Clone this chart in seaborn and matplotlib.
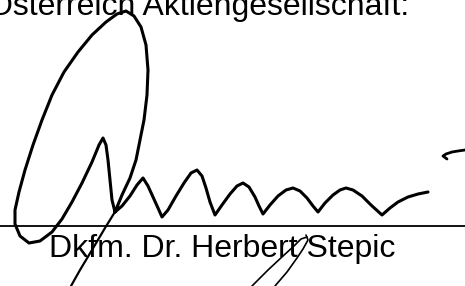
import matplotlib
matplotlib.use("Agg")
import matplotlib.pyplot as plt
import seaborn as sns
import pandas as pd

# ---- data (pixel space, y downward) ----
heading_text = "Österreich Aktiengesellschaft:"
name_text = "Dkfm. Dr. Herbert Stepic"

main_x = [115, 122, 130, 136, 140, 144, 147, 148, 146, 141, 134, 126, 117, 106, 92, 78, 64, 52, 42, 33, 25, 19, 15, 15, 20, 29, 40, 52, 62, 72, 82, 92, 99, 103, 106, 108, 110, 112, 115,
          122, 130, 137, 143, 148, 153, 158, 162, 168, 176, 184, 191, 197, 202, 206, 210, 215, 222, 230, 237, 243, 249, 255, 259, 263,
          270, 278, 286, 293, 300, 307, 313, 318, 325, 333, 340, 346, 353, 362, 371, 382, 390, 398, 408, 418, 428]
main_y = [212, 195, 178, 160, 140, 120, 95, 70, 45, 27, 16, 11, 14, 22, 35, 52, 72, 95, 120, 145, 170, 192, 210, 224, 236, 243, 241, 232, 219, 202, 183, 162, 145, 138, 145, 160, 180, 200, 212,
          206, 196, 185, 178, 186, 197, 208, 217, 210, 196, 183, 173, 170, 176, 188, 202, 215, 205, 194, 186, 183, 187, 197, 206, 214,
          205, 196, 190, 188, 191, 198, 206, 212, 203, 195, 190, 188, 190, 196, 205, 215, 208, 202, 197, 194, 192]

slash1_x = [118, 105, 92, 80, 71]
slash1_y = [207, 228, 250, 270, 286]
slash2_x = [252, 268, 283, 294, 301, 307]
slash2_y = [286, 270, 256, 246, 239, 237]
slash3_x = [275, 287, 297, 303, 308, 306]
slash3_y = [286, 272, 258, 249, 240, 235]
tick_x = [447, 443, 446, 452, 458, 465]
tick_y = [159, 156, 154, 152, 151, 150]
rule_x = [0, 465]
rule_y = [226, 226]

sns.set_theme(style="white")
plt.rcParams['font.family'] = ['Liberation Sans', 'DejaVu Sans']

fig = plt.figure(figsize=(4.65, 2.86), dpi=100)
ax = fig.add_axes([0, 0, 1, 1])

def stroke(xs, ys, lw):
    df = pd.DataFrame({"x": xs, "y": ys})
    sns.lineplot(data=df, x="x", y="y", sort=False, estimator=None,
                 color="black", linewidth=lw, ax=ax)

stroke(rule_x, rule_y, 1.3)
stroke(main_x, main_y, 2.2)
stroke(slash1_x, slash1_y, 1.6)
stroke(slash2_x, slash2_y, 1.2)
stroke(slash3_x, slash3_y, 1.2)
stroke(tick_x, tick_y, 2.0)

ax.text(409, 15, heading_text, ha="right", va="baseline", fontsize=23, color="black")
ax.text(49, 257, name_text, ha="left", va="baseline", fontsize=23, color="black")

ax.set_xlim(0, 465)
ax.set_ylim(286, 0)
ax.set_axis_off()
fig.savefig("out.png", dpi=100)
